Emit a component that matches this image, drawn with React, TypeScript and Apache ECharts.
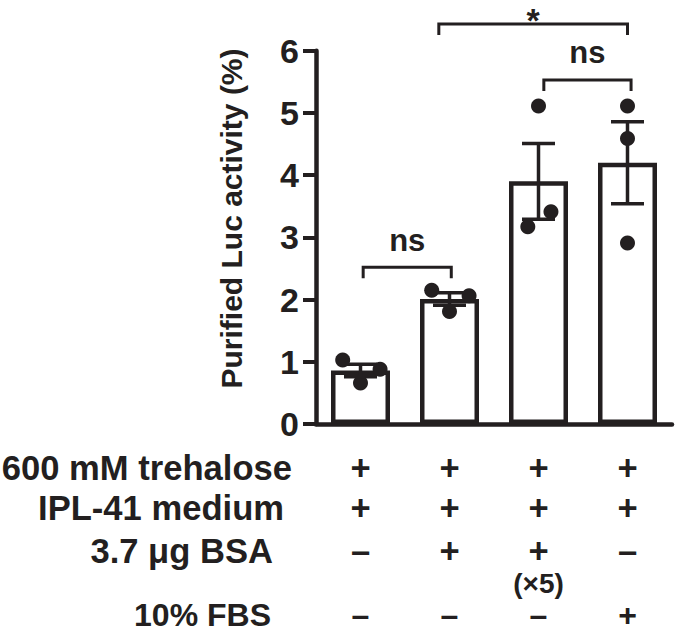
import React, { useEffect, useRef } from "react";
import * as echarts from "echarts";

// ---------- data ----------
const categories = ["Trehalose + IPL-41", "+ BSA", "+ BSA (×5)", "+ FBS"];
const meanValues = [0.86, 2.01, 3.9, 4.2];
const semValues = [0.1, 0.1, 0.61, 0.66];
const replicateValues = [
  [1.03, 0.88, 0.66],
  [2.15, 2.06, 1.81],
  [5.11, 3.41, 3.17],
  [5.11, 4.59, 2.91],
];
// horizontal jitter of replicate dots, in category-band units
const replicateJitter = [
  [-0.2, 0.22, 0],
  [-0.2, 0.22, 0],
  [0, 0.14, -0.12],
  [0, 0, 0],
];
const yMin = 0;
const yMax = 6;
const yInterval = 1;
const yTitle = "Purified Luc activity (%)";

// significance brackets (category index coordinates, y value of bar)
const bracketFrom = [0.03, 2.06, 0.88];
const bracketTo = [1.02, 3.04, 3.0];
const bracketLevel = [2.52, 5.53, 6.43];
const bracketLabels = ["ns", "ns", "*"];

// condition table
const conditionLabels = ["600 mM trehalose", "IPL-41 medium", "3.7 μg BSA", "10% FBS"];
const conditionSigns = [
  ["+", "+", "+", "+"],
  ["+", "+", "+", "+"],
  ["–", "+", "+", "–"],
  ["–", "–", "–", "+"],
];
const bsaNotes = ["", "", "(×5)", ""];

// ---------- style / layout ----------
const INK = "#231f20";
const FONT = "Liberation Sans, Arial, Helvetica, sans-serif";
const rowY = [467.5, 507.5, 551, 614.5];
const rowFont = [34.6, 34.6, 34.6, 32];
const noteY = 583.5;
const noteFont = 28;
const rowLabelRight = [292, 284, 273, 271];

export default function App() {
  const ref = useRef<HTMLDivElement>(null);

  useEffect(() => {
    if (!ref.current) return;
    const chart = echarts.init(ref.current, undefined, { renderer: "svg" });

    const dotData: number[][] = [];
    replicateValues.forEach((vals, i) =>
      vals.forEach((v, k) => dotData.push([i, v, replicateJitter[i][k]]))
    );

    const centered = {
      align: "center",
      verticalAlign: "middle",
      textAlign: "center",
      textVerticalAlign: "middle",
    };

    const option: any = {
      animation: false,
      grid: { left: 316, right: 3, top: 50.7, bottom: 207, containLabel: false },
      xAxis: {
        type: "category",
        data: categories,
        axisLine: { lineStyle: { color: INK, width: 4.5 } },
        axisTick: { alignWithLabel: true, length: 14, lineStyle: { color: INK, width: 4 } },
        axisLabel: { show: false },
        splitLine: { show: false },
      },
      yAxis: {
        type: "value",
        min: yMin,
        max: yMax,
        interval: yInterval,
        axisLine: { show: true, lineStyle: { color: INK, width: 4.5 } },
        axisTick: { show: true, length: 13, lineStyle: { color: INK, width: 4 } },
        axisLabel: {
          color: INK,
          fontFamily: FONT,
          fontWeight: "bold",
          fontSize: 34,
          margin: 17,
        },
        splitLine: { show: false },
      },
      series: [
        {
          type: "bar",
          data: meanValues,
          barWidth: 59,
          itemStyle: { color: "#ffffff", borderColor: INK, borderWidth: 4.5 },
          silent: true,
          z: 1,
        },
        {
          type: "custom",
          data: dotData,
          silent: true,
          clip: false,
          z: 3,
          renderItem: (params: any, api: any) => {
            const c = api.coord([api.value(0), api.value(1)]);
            const band = api.size([1, 0])[0];
            return {
              type: "circle",
              shape: { cx: c[0] + api.value(2) * band, cy: c[1], r: 7.5 },
              style: { fill: INK },
            };
          },
        },
        {
          type: "custom",
          data: meanValues.map((m, i) => [i, m, semValues[i]]),
          silent: true,
          clip: false,
          z: 4,
          renderItem: (params: any, api: any) => {
            const i = api.value(0);
            const m = api.value(1);
            const s = api.value(2);
            const top = api.coord([i, m + s]);
            const bot = api.coord([i, m - s]);
            const half = 16.5;
            const ls = { stroke: INK, lineWidth: 3.5 };
            return {
              type: "group",
              children: [
                { type: "line", shape: { x1: top[0], y1: top[1], x2: bot[0], y2: bot[1] }, style: ls },
                { type: "line", shape: { x1: top[0] - half, y1: top[1], x2: top[0] + half, y2: top[1] }, style: ls },
                { type: "line", shape: { x1: bot[0] - half, y1: bot[1], x2: bot[0] + half, y2: bot[1] }, style: ls },
              ],
            };
          },
        },
        {
          type: "custom",
          data: bracketLevel.map((lvl) => [0, lvl]),
          silent: true,
          clip: false,
          z: 5,
          renderItem: (params: any, api: any) => {
            const k = params.dataIndex;
            const p0 = api.coord([0, api.value(1)]);
            const band = api.size([1, 0])[0];
            const x1 = p0[0] + bracketFrom[k] * band;
            const x2 = p0[0] + bracketTo[k] * band;
            const y = p0[1];
            const leg = 11;
            const isStar = bracketLabels[k] === "*";
            return {
              type: "group",
              children: [
                {
                  type: "polyline",
                  shape: { points: [[x1, y + leg], [x1, y], [x2, y], [x2, y + leg]] },
                  style: { stroke: INK, lineWidth: 3, fill: "none" },
                },
                {
                  type: "text",
                  x: (x1 + x2) / 2,
                  y: isStar ? y - 4 : y - 27,
                  style: {
                    text: bracketLabels[k],
                    fill: INK,
                    font: `bold ${isStar ? 34 : 31}px ${FONT}`,
                    lineHeight: isStar ? 24 : 31,
                    ...centered,
                  },
                },
              ],
            };
          },
        },
        {
          type: "custom",
          data: categories.map((_, i) => [i, 0]),
          silent: true,
          clip: false,
          z: 5,
          renderItem: (params: any, api: any) => {
            const i = params.dataIndex;
            const x = api.coord([i, 0])[0];
            const children: any[] = conditionSigns.map((row, r) => ({
              type: "text",
              x,
              y: rowY[r],
              style: {
                text: row[i],
                fill: INK,
                font: `bold ${rowFont[r]}px ${FONT}`,
                lineHeight: 28,
                ...centered,
              },
            }));
            if (bsaNotes[i]) {
              children.push({
                type: "text",
                x,
                y: noteY,
                style: {
                  text: bsaNotes[i],
                  fill: INK,
                  font: `bold ${noteFont}px ${FONT}`,
                  lineHeight: 28,
                  ...centered,
                },
              });
            }
            return { type: "group", children };
          },
        },
      ],
      graphic: [
        {
          type: "text",
          x: 231,
          y: 218.5,
          rotation: Math.PI / 2,
          silent: true,
          style: {
            text: yTitle,
            fill: INK,
            font: `bold 30px ${FONT}`,
            ...centered,
          },
        },
        ...conditionLabels.map((label, r) => ({
          type: "text",
          x: rowLabelRight[r],
          y: rowY[r],
          silent: true,
          style: {
            text: label,
            fill: INK,
            font: `bold ${rowFont[r]}px ${FONT}`,
            lineHeight: 28,
            align: "right",
            verticalAlign: "middle",
            textAlign: "right",
            textVerticalAlign: "middle",
          },
        })),
      ],
    };

    chart.setOption(option);
    return () => chart.dispose();
  }, []);

  return (
    <div
      ref={ref}
      style={{ position: "fixed", left: 0, top: 0, width: 675, height: 631, background: "#ffffff" }}
    />
  );
}
